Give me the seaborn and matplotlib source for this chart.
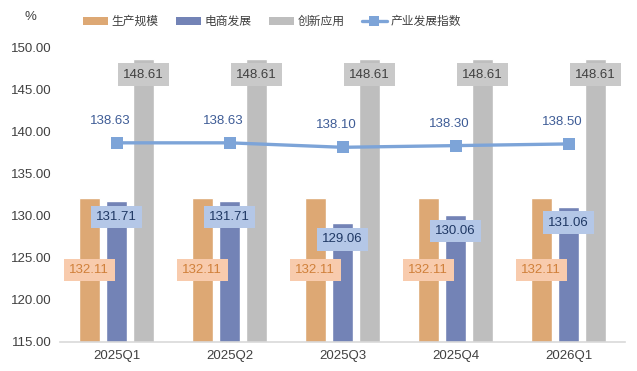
import matplotlib

matplotlib.use("Agg")
import matplotlib.pyplot as plt
import numpy as np
import pandas as pd
import seaborn as sns
from matplotlib.lines import Line2D
from matplotlib.patches import Patch

# data
quarters = ["2025Q1", "2025Q2", "2025Q3", "2025Q4", "2026Q1"]
scale = [132.11, 132.11, 132.11, 132.11, 132.11]      # 生产规模
ecommerce = [131.71, 131.71, 129.06, 130.06, 131.06]  # 电商发展
innovation = [148.61, 148.61, 148.61, 148.61, 148.61]  # 创新应用
index_vals = [138.63, 138.63, 138.10, 138.30, 138.50]  # 产业发展指数
series_names = ["生产规模", "电商发展", "创新应用"]
line_name = "产业发展指数"

COLORS = {"生产规模": "#DDA874", "电商发展": "#7383B6", "创新应用": "#BEBEBE"}
LINE_COLOR = "#7DA4D8"
TEXT = "#404040"

sns.set_theme(style="white")
plt.rcParams["font.family"] = ["Liberation Sans", "Noto Sans CJK SC", "DejaVu Sans"]

df = pd.DataFrame({
    "quarter": quarters * 3,
    "series": sum([[s] * len(quarters) for s in series_names], []),
    "value": scale + ecommerce + innovation,
})

fig = plt.figure(figsize=(6.37, 3.71), dpi=100)
ax = fig.add_axes([60 / 637, 1 - 342 / 371, 565 / 637, 295 / 371])

sns.barplot(data=df, x="quarter", y="value", hue="series", hue_order=series_names,
            palette=COLORS, width=0.72, gap=0.2, saturation=1, legend=False, ax=ax, zorder=2)

x = np.arange(len(quarters))
sns.lineplot(x=x, y=index_vals, color=LINE_COLOR, linewidth=2.4, marker="s",
             markersize=8, markeredgewidth=0, ax=ax, zorder=4)

ax.set_ylim(115, 150)
ax.set_xlim(-0.5, len(quarters) - 0.5)
ax.set_yticks(np.arange(115, 150.1, 5))
ax.yaxis.set_major_formatter(matplotlib.ticker.FormatStrFormatter("%.2f"))
ax.set_xlabel("")
ax.set_ylabel("")
for s in ["top", "right", "left"]:
    ax.spines[s].set_visible(False)
ax.spines["bottom"].set_color("#D9D9D9")
ax.spines["bottom"].set_linewidth(1.2)
ax.tick_params(axis="both", length=0, labelsize=9.5, colors=TEXT, pad=6)

# bar labels
label_style = {
    "生产规模": dict(fc="#F8CBAD", tc="#D0803A", mode="center"),
    "电商发展": dict(fc="#B4C7E7", tc="#1F3864", mode="inside"),
    "创新应用": dict(fc="#C9C9C9", tc="#404040", mode="inside"),
}
values = {"生产规模": scale, "电商发展": ecommerce, "创新应用": innovation}
for name, cont in zip(series_names, ax.containers):
    st = label_style[name]
    for bar, v in zip(cont.patches, values[name]):
        cx = bar.get_x() + bar.get_width() / 2
        box = dict(boxstyle="square,pad=0.4", fc=st["fc"], ec="none")
        if st["mode"] == "center":
            ax.annotate(f"{v:.2f}", (cx, (115 + v) / 2), ha="center", va="center",
                        fontsize=9.5, color=st["tc"], zorder=6, bbox=box)
        else:
            ax.annotate(f"{v:.2f}", (cx, v), xytext=(0, -16), textcoords="offset pixels",
                        ha="center", va="center", fontsize=9.5, color=st["tc"], zorder=6,
                        bbox=box)

# line labels
for xi, v in zip(x, index_vals):
    ax.annotate(f"{v:.2f}", (xi, v), xytext=(-6, 22), textcoords="offset pixels",
                ha="center", va="center", fontsize=9.5, color="#3E5C96", zorder=6)

fig.text(30 / 637, 1 - 17 / 371, "%", ha="center", va="center", fontsize=9.5, color=TEXT)

handles = [Patch(facecolor=COLORS[n], edgecolor="none") for n in series_names]
handles.append(Line2D([0], [0], color=LINE_COLOR, linewidth=2.4, marker="s",
                      markersize=7, markeredgewidth=0))
fig.legend(handles, series_names + [line_name], loc="center", ncol=4,
           bbox_to_anchor=(272 / 637, 1 - 22 / 371), frameon=False, fontsize=8.5,
           handlelength=2.1, handleheight=0.65, handletextpad=0.35, columnspacing=1.45,
           labelcolor=TEXT)

fig.savefig("out.png", dpi=100)
